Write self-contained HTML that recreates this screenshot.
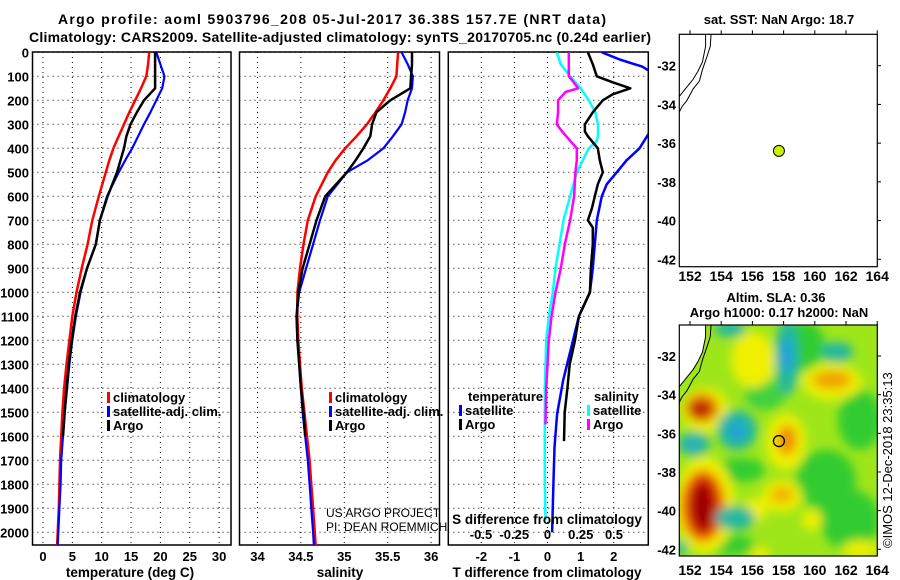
<!DOCTYPE html>
<html><head><meta charset="utf-8"><style>
body{margin:0;background:#fff}
svg{display:block;font-family:"Liberation Sans",sans-serif}
</style></head><body>
<svg id="c" width="900" height="580" viewBox="0 0 900 580" xmlns="http://www.w3.org/2000/svg">
<defs>
<clipPath id="cp1"><rect x="32.5" y="52" width="198.5" height="493"/></clipPath>
<clipPath id="cp2"><rect x="239.5" y="52" width="200" height="493"/></clipPath>
<clipPath id="cp3"><rect x="448.3" y="52" width="200" height="493"/></clipPath>
<clipPath id="cpm"><rect x="679.3" y="325" width="198" height="231"/></clipPath>
<filter id="bl" x="-50%" y="-50%" width="200%" height="200%"><feGaussianBlur stdDeviation="5"/></filter>
</defs>
<text x="332" y="24" text-anchor="middle" font-size="14" font-weight="bold" textLength="548">Argo profile: aoml 5903796_208 05-Jul-2017 36.38S 157.7E (NRT data)</text>
<text x="340" y="42" text-anchor="middle" font-size="14" font-weight="bold" textLength="622">Climatology: CARS2009. Satellite-adjusted climatology: synTS_20170705.nc (0.24d earlier)</text>
<g id="g"></g>
</svg>
<script>
// ---- data ----
const depths = [0,50,100,150,200,250,300,350,400,450,500,600,700,800,900,1000,1100,1200,1300,1400,1500,1600,1700,1800,1900,2000,2056];
const tempClim = [18.1,17.9,17.6,16.7,15.7,14.7,13.8,12.9,12.0,11.3,10.7,9.5,8.4,7.6,6.6,5.7,5.0,4.5,4.0,3.6,3.3,3.1,2.9,2.8,2.7,2.5,2.4];
const tempSat = [19.3,20.0,20.7,20.3,19.3,18.3,17.2,16.2,15.2,14.0,12.9,10.9,9.7,9.0,7.5,6.4,5.6,5.0,4.5,4.1,3.7,3.4,3.1,3.0,2.8,2.6,2.5];
const tempArgo = [19.1,19.1,19.1,19.1,17.2,16.0,14.9,14.2,13.8,13.2,12.6,11.0,9.7,9.0,7.5,6.3,5.5,4.9,4.4,4.0,3.7,3.4,null,null,null,null,null];
const salClim = [35.62,35.61,35.60,35.53,35.45,35.36,35.26,35.14,35.01,34.90,34.81,34.67,34.58,34.53,34.49,34.46,34.46,34.47,34.49,34.51,34.54,34.57,34.60,34.62,34.64,34.66,34.67];
const salSat = [35.66,35.73,35.79,35.78,35.73,35.70,35.66,35.56,35.45,35.27,35.03,34.81,34.72,34.64,34.56,34.48,34.45,34.46,34.48,34.50,34.52,34.55,34.58,34.60,34.62,34.64,34.65];
const salArgo = [35.78,35.78,35.77,35.76,35.53,35.37,35.32,35.30,35.22,35.13,35.03,34.78,34.68,34.60,34.52,34.47,34.45,34.46,34.48,34.50,34.53,34.55,null,null,null,null,null];
const dTsatDepth = [0,30,60,200,340,400,450,500,550,600,700,800,900,1000,1100,1200,1368,1507,1646,1785,2000];
const dTsat = [1.64,2.18,2.87,4.5,3.05,2.78,2.39,2.09,1.79,1.64,1.49,1.43,1.37,1.28,0.95,0.77,0.47,0.29,0.21,0.18,0.14];
const dTargoDepth = [0,50,100,125,150,175,200,250,300,330,350,400,450,500,550,600,650,700,730,800,900,1000,1100,1200,1300,1400,1500,1620];
const dTargo = [1.22,1.37,1.49,1.97,2.5,1.97,1.67,1.37,1.13,1.13,1.22,1.52,1.58,1.67,1.52,1.43,1.34,1.22,1.37,1.37,1.31,1.28,0.95,0.83,0.67,0.6,0.52,0.5];
const dSargoDepth = [0,100,120,150,165,200,250,300,330,400,450,500,600,700,800,900,1000,1100,1200,1300,1400,1550];
const dSargo = [0.16,0.16,0.19,0.23,0.135,0.08,0.08,0.07,0.11,0.22,0.22,0.21,0.20,0.17,0.13,0.10,0.06,0.03,0.01,0.0,-0.01,-0.015];
const dSsatDepth = [0,50,100,150,200,250,300,350,370,400,500,600,700,800,900,1000,1100,1200,1400,1600,1800,1950];
const dSsat = [0.07,0.10,0.17,0.25,0.31,0.36,0.38,0.38,0.37,0.31,0.22,0.17,0.12,0.09,0.06,0.04,0.01,-0.01,-0.02,-0.02,-0.02,-0.015];
const depthTicks = [0,100,200,300,400,500,600,700,800,900,1000,1100,1200,1300,1400,1500,1600,1700,1800,1900,2000];
const tempTicks = [0,5,10,15,20,25,30];
const salTicks = [34,34.5,35,35.5,36];
const salTickLabels = ["34","34.5","35","35.5","36"];
const dTTicks = [-2,-1,0,1,2];
const dSTicks = [-0.5,-0.25,0,0.25,0.5];
const dSTickLabels = ["-0.5","-0.25","0","0.25","0.5"];
const lonTicks = [152,154,156,158,160,162,164];
const latTicks = [-32,-34,-36,-38,-40,-42];
const floatLon = 157.7, floatLat = -36.4;
const coastLon = [153.0,153.0,152.8,152.5,152.2,151.9,151.6,151.3];
const coastLat = [-30.38,-31.0,-31.8,-32.3,-32.7,-33.0,-33.3,-33.6];
const contourLon = [153.35,153.3,153.1,152.8,152.6,152.2,151.8,151.5,151.31];
const contourLat = [-30.38,-31.0,-31.5,-32.2,-32.8,-33.2,-33.8,-34.1,-34.4];

// ---- axes ----
const yD = d => 52.3 + d*0.2400;
const xT = t => 43 + t*5.87;
const xS = s => 257.5 + (s-34)*86.8;
const xDT = v => 547.5 + v*33.1;
const xDS = v => 547.5 + v*133;
const mX = lon => 690 + (lon-152)*15.6;
const mYtop = lat => 65.7 + (-32-lat)*19.36;
const mYbot = lat => 356 + (-32-lat)*19.33;

const NS="http://www.w3.org/2000/svg";
const G=document.getElementById('g');
function el(tag, at, parent, txt){const e=document.createElementNS(NS,tag);for(const k in at)e.setAttribute(k,at[k]);if(txt!==undefined)e.textContent=txt;(parent||G).appendChild(e);return e;}
function grp(name){const g=el('g',{});


return g;}
function pts(ds, vs, fx){const p=[];for(let i=0;i<ds.length;i++){if(vs[i]===null||vs[i]===undefined)continue;p.push(fx(vs[i]).toFixed(1)+','+yD(ds[i]).toFixed(1));}return p.join(' ');}
function line(parent, ds, vs, fx, color, w, clip, name){const l=el('polyline',{points:pts(ds,vs,fx),fill:'none',stroke:color,'stroke-width':w,'clip-path':'url(#'+clip+')','stroke-linejoin':'round'},parent);


return l;}
function text(parent,x,y,s,anchor,name,size,weight){const t=el('text',{x:x,y:y,'text-anchor':anchor||'middle','font-size':size||13,'font-weight':weight||'bold'},parent,s);


return t;}

function panel(name,x0,x1,xTicksV,fx,tickLbl,showDepth,clip){
  const g=grp(name);
  depthTicks.forEach(d=>{el('line',{x1:x0,x2:x1,y1:yD(d),y2:yD(d),stroke:'#000','stroke-width':1,'stroke-dasharray':'1,4'},g);});
  xTicksV.forEach(v=>{el('line',{x1:fx(v),x2:fx(v),y1:52,y2:545,stroke:'#000','stroke-width':1,'stroke-dasharray':'1,4'},g);});
  el('rect',{x:x0,y:52,width:x1-x0,height:493,fill:'none',stroke:'#000','stroke-width':1.5},g);
  if(tickLbl) xTicksV.forEach((v,i)=>text(g,fx(v),561,tickLbl[i],'middle','x-tick-label'));
  if(showDepth) depthTicks.forEach(d=>text(g,29,yD(d)+5,String(d),'end','depth-tick-label'));
  return g;
}
const p1=panel('temperature-panel',32.5,231,tempTicks,xT,tempTicks.map(String),true,'cp1');
line(p1,depths,tempClim,xT,'#f00',2.5,'cp1','temp-climatology-line');
line(p1,depths,tempSat,xT,'#00f',2.2,'cp1','temp-satellite-line');
line(p1,depths,tempArgo,xT,'#000',2.5,'cp1','temp-argo-line');
text(p1,130,577,'temperature (deg C)','middle','temperature-axis-title',13.5);
const p2=panel('salinity-panel',239.5,439.5,salTicks,xS,salTickLabels,false,'cp2');
line(p2,depths,salClim,xS,'#f00',2.5,'cp2','sal-climatology-line');
line(p2,depths,salSat,xS,'#00f',2.2,'cp2','sal-satellite-line');
line(p2,depths,salArgo,xS,'#000',2.5,'cp2','sal-argo-line');
text(p2,340,577,'salinity','middle','salinity-axis-title',13.5);
text(p2,326,517,'US ARGO PROJECT','start','credit-project',12,'normal');
text(p2,326,531,'PI: DEAN ROEMMICH','start','credit-pi',12,'normal');
const p3=panel('difference-panel',448.3,648.3,dTTicks,xDT,dTTicks.map(String),false,'cp3');
line(p3,dSsatDepth,dSsat,xDS,'#0ff',2.5,'cp3','sal-diff-satellite-line');
line(p3,dSargoDepth,dSargo,xDS,'#f0f',2.5,'cp3','sal-diff-argo-line');
line(p3,dTsatDepth,dTsat,xDT,'#00f',2.5,'cp3','temp-diff-satellite-line');
line(p3,dTargoDepth,dTargo,xDT,'#000',2.5,'cp3','temp-diff-argo-line');
text(p3,547,577,'T difference from climatology','middle','t-diff-axis-title',13.5);
text(p3,547,524,'S difference from climatology','middle','s-diff-axis-title',13.5);
dSTicks.forEach((v,i)=>text(p3,xDS(v),539,dSTickLabels[i],'middle','s-diff-tick-label'));

function legend(parent,x,y,items,name){const g=el('g',{},parent);


items.forEach((it,i)=>{el('rect',{x:x,y:y+i*14-10,width:3,height:11,fill:it[0]},g);text(g,x+6,y+i*14,it[1],'start','legend-entry');});}
legend(p1,107,402,[['#f00','climatology'],['#00f','satellite-adj. clim.'],['#000','Argo']],'temp-legend');
legend(p2,329,402,[['#f00','climatology'],['#00f','satellite-adj. clim.'],['#000','Argo']],'sal-legend');
text(p3,468,401,'temperature','start','legend-temp-header');
legend(p3,459,415,[['#00f','satellite'],['#000','Argo']],'temp-diff-legend');
text(p3,594,401,'salinity','start','legend-sal-header');
legend(p3,587,415,[['#0ff','satellite'],['#f0f','Argo']],'sal-diff-legend');

function mapAxes(g,y0,y1,fy,lonLblY){
  el('rect',{x:679.3,y:y0,width:198,height:y1-y0,fill:'none',stroke:'#000','stroke-width':1.2},g);
  lonTicks.forEach(l=>{el('line',{x1:mX(l),x2:mX(l),y1:y0,y2:y0-4,stroke:'#000'},g);text(g,mX(l),lonLblY,String(l),'middle','lon-tick-label',14);});
  latTicks.forEach(l=>{el('line',{x1:877.3,x2:881,y1:fy(l),y2:fy(l),stroke:'#000'},g);text(g,676,fy(l)+5,String(l),'end','lat-tick-label');});
}
const m1=grp('sst-map');
text(m1,779,24,'sat. SST: NaN Argo: 18.7','middle','sst-map-title');
el('polyline',{points:coastLon.map((l,i)=>mX(l)+','+mYtop(coastLat[i])).join(' '),fill:'none',stroke:'#000','stroke-width':1},m1);
el('polyline',{points:contourLon.map((l,i)=>mX(l)+','+mYtop(contourLat[i])).join(' '),fill:'none',stroke:'#000','stroke-width':1},m1);
mapAxes(m1,34.3,266.7,mYtop,281);
const fp1=el('circle',{cx:mX(floatLon),cy:mYtop(floatLat),r:5.5,fill:'#ccf000',stroke:'#000','stroke-width':1},m1);



const m2=grp('sla-map');
text(m2,776,302,'Altim. SLA: 0.36','middle','sla-map-title');
text(m2,779,317,'Argo h1000: 0.17 h2000: NaN','middle','sla-map-subtitle');
const hm=el('g',{'clip-path':'url(#cpm)'},m2);
el('rect',{x:679,y:325,width:199,height:232,fill:'#9ee61a'},hm);
const blobs=el('g',{filter:'url(#bl)'},hm);
const B=[
 ['#30cc30',826,480,30,30],['#30cc30',860,420,22,30],['#30cc30',740,470,25,12],['#30cc30',800,345,25,25],['#30cc30',850,520,30,30],['#30cc30',730,545,25,10],['#40d040',765,395,20,15],
 ['#f0f000',753,360,22,28],['#f0f000',705,505,30,48],['#f0f000',705,410,24,22],['#f0f000',832,382,30,18],['#f0f000',786,442,20,28],['#f0f000',782,496,20,16],['#f0f000',755,510,12,12],['#f0f000',812,520,10,10],['#e8f000',860,550,18,10],['#f0f000',760,555,10,8],
 ['#f0a000',832,380,20,9],['#f09000',787,440,10,15],['#f0b000',782,495,12,8],
 ['#e06000',702,408,16,14],['#b82000',700,410,10,8],
 ['#f06000',703,506,22,36],['#c00000',703,506,14,28],['#a00000',702,508,10,22],
 ['#20b8a0',787,357,12,38],['#20a0e0',787,355,6,16],
 ['#20b8a0',737,430,20,20],['#20a0e0',737,431,8,9],
 ['#20b8a0',694,444,16,12],['#30b0c0',692,444,8,6],
 ['#20b8a0',730,329,16,8],['#20b8a0',837,352,16,10],['#20b8a0',735,518,20,12],['#20b8a0',681,548,6,8]
];
B.forEach(b=>el('ellipse',{cx:b[1],cy:b[2],rx:b[3],ry:b[4],fill:b[0]},blobs));
const land=[mX(151.2)+','+mYbot(-30.3)].concat(coastLon.map((l,i)=>mX(l)+','+mYbot(coastLat[i]))).concat([mX(151.2)+','+mYbot(-33.6)]);
el('polygon',{points:land.join(' '),fill:'#fff',stroke:'#000','stroke-width':1},hm);
el('polyline',{points:contourLon.map((l,i)=>mX(l)+','+mYbot(contourLat[i])).join(' '),fill:'none',stroke:'#000','stroke-width':1},hm);
mapAxes(m2,325,556,mYbot,575);
const fp2=el('circle',{cx:mX(floatLon),cy:mYbot(floatLat),r:5.5,fill:'none',stroke:'#000','stroke-width':1.3},m2);


const cr=el('text',{x:0,y:0,'font-size':13,'font-weight':'normal',transform:'translate(892,548) rotate(-90)'},m2,'©IMOS 12-Dec-2018 23:35:13');


</script>
</body></html>
